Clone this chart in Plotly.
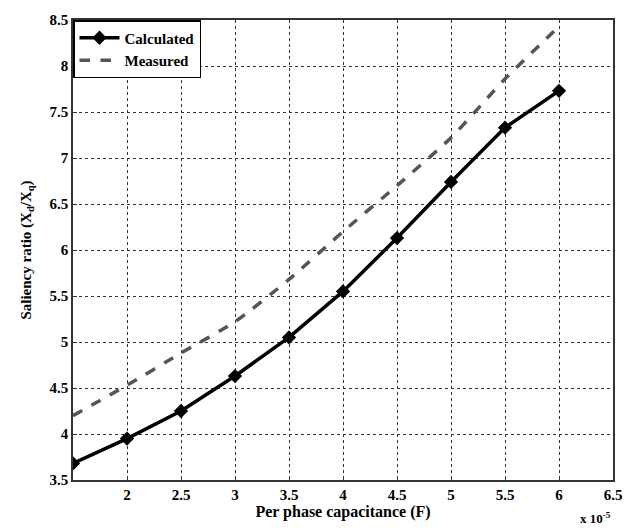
import plotly.graph_objects as go

capacitance = [1.5, 2.0, 2.5, 3.0, 3.5, 4.0, 4.5, 5.0, 5.5, 6.0]
calculated = [3.68, 3.95, 4.25, 4.63, 5.05, 5.55, 6.13, 6.74, 7.33, 7.73]
measured = [4.20, 4.53, 4.88, 5.22, 5.68, 6.20, 6.70, 7.22, 7.86, 8.43]
x_ticks = [2, 2.5, 3, 3.5, 4, 4.5, 5, 5.5, 6, 6.5]
x_tick_text = ["2", "2.5", "3", "3.5", "4", "4.5", "5", "5.5", "6", "6.5"]
y_ticks = [3.5, 4, 4.5, 5, 5.5, 6, 6.5, 7, 7.5, 8, 8.5]
y_tick_text = ["3.5", "4", "4.5", "5", "5.5", "6", "6.5", "7", "7.5", "8", "8.5"]

FONT = "Liberation Serif"

fig = go.Figure()
fig.add_trace(go.Scatter(
    x=capacitance, y=calculated, name="<b>Calculated</b>", mode="lines+markers",
    line=dict(color="black", width=3.5),
    marker=dict(symbol="diamond", size=11, color="black"),
))
fig.add_trace(go.Scatter(
    x=capacitance, y=measured, name="<b>Measured</b>", mode="lines",
    line=dict(color="#555555", width=3.5, dash="dash", shape="spline", smoothing=0.6),
))

axis_common = dict(
    showline=True, linecolor="#333333", linewidth=1.5, mirror=True,
    showgrid=True, gridcolor="#333333", griddash="dot", gridwidth=1.2,
    ticks="inside", ticklen=4, tickcolor="#333333",
    tickfont=dict(family=FONT, size=15, color="black", weight="bold"),
    zeroline=False,
)

fig.update_layout(
    width=632, height=530,
    margin=dict(l=73, r=10, t=20, b=50),
    paper_bgcolor="white", plot_bgcolor="white",
    font=dict(family=FONT, color="black"),
    showlegend=True,
    legend=dict(
        x=0, y=1, xanchor="left", yanchor="top",
        bgcolor="white", bordercolor="black", borderwidth=1.5,
        font=dict(family=FONT, size=15, color="black"),
        tracegroupgap=0, itemwidth=40,
    ),
    xaxis=dict(
        range=[1.5, 6.5], tickvals=x_ticks, ticktext=x_tick_text,
        title=dict(text="<b>Per phase capacitance (F)</b>", font=dict(family=FONT, size=16), standoff=2),
        **axis_common,
    ),
    yaxis=dict(
        range=[3.5, 8.5], tickvals=y_ticks, ticktext=y_tick_text,
        title=dict(text="<b>Saliency ratio (X<sub>d</sub>/X<sub>q</sub>)</b>", font=dict(family=FONT, size=15), standoff=14),
        **axis_common,
    ),
)

fig.add_annotation(
    text="<b>x 10<sup>-5</sup></b>", xref="paper", yref="paper",
    x=1.0, y=-0.083, xanchor="right", yanchor="middle", showarrow=False,
    font=dict(family=FONT, size=13, color="black"),
)

fig.write_html("out.html")
